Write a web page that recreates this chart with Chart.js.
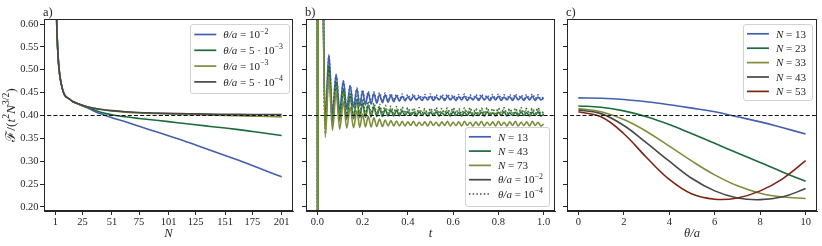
<!DOCTYPE html>
<html><head><meta charset="utf-8">
<script src="https://cdn.jsdelivr.net/npm/chart.js@4"></script>
<style>
html,body{margin:0;padding:0;background:#fff;}
#wrap{position:relative;width:822px;height:246px;overflow:hidden;background:#fff;}
canvas{position:absolute;top:0;}
</style></head><body>
<div id="wrap">
<canvas id="ca" width="298" height="246" style="left:0px"></canvas>
<canvas id="cb" width="260" height="246" style="left:298px"></canvas>
<canvas id="cc" width="264" height="246" style="left:558px"></canvas>
</div>
<script>
// ================= DATA =================
const refLevel = 0.40;
const yTicks = [0.20, 0.25, 0.30, 0.35, 0.40, 0.45, 0.50, 0.55, 0.60];

// ---- panel a : F/(t^2 N^{3/2}) vs N ----
const aTicks = [1, 25, 51, 75, 101, 125, 151, 175, 201];
const aN = [1, 2, 3, 4, 5, 6, 8, 10, 13, 16, 20, 25, 31, 41, 51, 63, 75, 88, 101, 113, 125, 138, 151, 163, 175, 188, 201];
const aTheta1e2 = [0.95, 0.64, 0.55, 0.51, 0.487, 0.472, 0.452, 0.442, 0.437, 0.431, 0.426, 0.421, 0.4145, 0.4035, 0.395, 0.386, 0.3765, 0.366, 0.3555, 0.346, 0.3355, 0.324, 0.3125, 0.302, 0.2905, 0.278, 0.266];
const aTheta5e3 = [0.95, 0.64, 0.55, 0.51, 0.487, 0.472, 0.452, 0.442, 0.437, 0.431, 0.4265, 0.4215, 0.4165, 0.407, 0.4015, 0.397, 0.3935, 0.390, 0.3865, 0.383, 0.3795, 0.376, 0.3725, 0.369, 0.365, 0.3605, 0.356];
const aTheta1e3 = [0.95, 0.64, 0.55, 0.51, 0.487, 0.472, 0.452, 0.442, 0.437, 0.431, 0.4265, 0.4223, 0.4177, 0.413, 0.4098, 0.4072, 0.4055, 0.4043, 0.4032, 0.4023, 0.4015, 0.4007, 0.3999, 0.3992, 0.3985, 0.3977, 0.397];
const aTheta5e4 = [0.95, 0.64, 0.55, 0.51, 0.487, 0.472, 0.452, 0.442, 0.437, 0.431, 0.4265, 0.4225, 0.418, 0.4135, 0.4105, 0.408, 0.4065, 0.4055, 0.4045, 0.404, 0.4035, 0.403, 0.4027, 0.4024, 0.4022, 0.402, 0.4018];

// ---- panel b : F/(t^2 N^{3/2}) vs t ----
const bTicks = [0.0, 0.2, 0.4, 0.6, 0.8, 1.0];
const bT = [0, 0.002, 0.004, 0.014, 0.024, 0.035, 0.051, 0.067, 0.083, 0.099, 0.115, 0.130, 0.145, 0.160,
  0.175, 0.1875, 0.2, 0.2125, 0.225, 0.2375, 0.25, 0.2625, 0.275, 0.2875, 0.3, 0.3125, 0.325, 0.3375,
  0.35, 0.3625, 0.375, 0.3875, 0.4, 0.4125, 0.425, 0.4375, 0.45, 0.4625, 0.475, 0.4875, 0.5, 0.5125,
  0.525, 0.5375, 0.55, 0.5625, 0.575, 0.5875, 0.6, 0.6125, 0.625, 0.6375, 0.65, 0.6625, 0.675, 0.6875,
  0.7, 0.7125, 0.725, 0.7375, 0.75, 0.7625, 0.775, 0.7875, 0.8, 0.8125, 0.825, 0.8375, 0.85, 0.8625,
  0.875, 0.8875, 0.9, 0.9125, 0.925, 0.9375, 0.95, 0.9625, 0.975, 0.9875, 1.0];
const bN13th2 = [0.90, -0.30, 0.90, 1.40, 0.78,
  0.385, 0.533, 0.405, 0.490, 0.410, 0.476, 0.414, 0.465, 0.418, 0.458,
  0.421, 0.453, 0.423, 0.450, 0.425, 0.448, 0.427, 0.446, 0.428, 0.445,
  0.429, 0.444, 0.430, 0.443, 0.431, 0.442, 0.432, 0.441, 0.433, 0.442,
  0.434, 0.440, 0.433, 0.441, 0.434, 0.442, 0.433, 0.440, 0.434, 0.441,
  0.433, 0.442, 0.434, 0.440, 0.433, 0.441, 0.434, 0.442, 0.433, 0.440,
  0.434, 0.441, 0.433, 0.442, 0.434, 0.440, 0.433, 0.441, 0.434, 0.442,
  0.433, 0.440, 0.434, 0.441, 0.433, 0.442, 0.434, 0.440, 0.433, 0.441,
  0.434, 0.442, 0.433, 0.440, 0.434, 0.438];
const bN13th4 = [0.90, -0.30, 0.90, 1.40, 0.78,
  0.388, 0.530, 0.408, 0.488, 0.413, 0.475, 0.417, 0.466, 0.421, 0.460,
  0.424, 0.456, 0.426, 0.453, 0.428, 0.451, 0.430, 0.450, 0.431, 0.449,
  0.432, 0.448, 0.433, 0.447, 0.434, 0.447, 0.435, 0.446, 0.436, 0.447,
  0.436, 0.445, 0.437, 0.446, 0.436, 0.447, 0.437, 0.445, 0.436, 0.446,
  0.437, 0.447, 0.436, 0.445, 0.437, 0.446, 0.436, 0.447, 0.437, 0.445,
  0.436, 0.446, 0.437, 0.447, 0.436, 0.445, 0.437, 0.446, 0.436, 0.447,
  0.437, 0.445, 0.436, 0.446, 0.437, 0.447, 0.436, 0.445, 0.437, 0.446,
  0.436, 0.447, 0.437, 0.445, 0.436, 0.441];
const bN43th2 = [0.90, -0.30, 0.90, 1.40, 0.76,
  0.370, 0.505, 0.386, 0.470, 0.390, 0.455, 0.392, 0.443, 0.393, 0.435,
  0.395, 0.428, 0.396, 0.423, 0.397, 0.419, 0.398, 0.416, 0.398, 0.414,
  0.399, 0.412, 0.399, 0.411, 0.399, 0.410, 0.400, 0.408, 0.400, 0.407,
  0.399, 0.408, 0.400, 0.406, 0.399, 0.407, 0.400, 0.408, 0.399, 0.406,
  0.400, 0.407, 0.399, 0.408, 0.400, 0.406, 0.399, 0.407, 0.400, 0.408,
  0.399, 0.406, 0.400, 0.407, 0.399, 0.408, 0.400, 0.406, 0.399, 0.407,
  0.400, 0.408, 0.399, 0.406, 0.400, 0.407, 0.399, 0.408, 0.400, 0.406,
  0.399, 0.407, 0.400, 0.408, 0.399, 0.403];
const bN43th4 = [0.90, -0.30, 0.90, 1.40, 0.76,
  0.375, 0.510, 0.392, 0.475, 0.396, 0.460, 0.398, 0.450, 0.400, 0.442,
  0.401, 0.436, 0.402, 0.431, 0.403, 0.427, 0.404, 0.424, 0.404, 0.422,
  0.405, 0.420, 0.405, 0.419, 0.405, 0.418, 0.405, 0.417, 0.405, 0.416,
  0.404, 0.417, 0.405, 0.415, 0.404, 0.416, 0.405, 0.417, 0.404, 0.415,
  0.405, 0.416, 0.404, 0.417, 0.405, 0.415, 0.404, 0.416, 0.405, 0.417,
  0.404, 0.415, 0.405, 0.416, 0.404, 0.417, 0.405, 0.415, 0.404, 0.416,
  0.405, 0.417, 0.404, 0.415, 0.405, 0.416, 0.404, 0.417, 0.405, 0.415,
  0.404, 0.416, 0.405, 0.417, 0.404, 0.409];
const bN73th2 = [0.90, -0.30, 0.90, 1.40, 0.74,
  0.352, 0.485, 0.368, 0.450, 0.370, 0.430, 0.372, 0.418, 0.373, 0.410,
  0.374, 0.403, 0.375, 0.398, 0.375, 0.395, 0.376, 0.392, 0.376, 0.390,
  0.377, 0.389, 0.377, 0.388, 0.377, 0.387, 0.377, 0.386, 0.378, 0.387,
  0.377, 0.385, 0.378, 0.386, 0.377, 0.387, 0.378, 0.385, 0.377, 0.386,
  0.378, 0.387, 0.377, 0.385, 0.378, 0.386, 0.377, 0.387, 0.378, 0.385,
  0.377, 0.386, 0.378, 0.387, 0.377, 0.385, 0.378, 0.386, 0.377, 0.387,
  0.378, 0.385, 0.377, 0.386, 0.378, 0.387, 0.377, 0.385, 0.378, 0.386,
  0.377, 0.387, 0.378, 0.385, 0.377, 0.381];
const bN73th4 = [0.90, -0.30, 0.90, 1.40, 0.74,
  0.360, 0.495, 0.378, 0.465, 0.385, 0.450, 0.390, 0.440, 0.393, 0.433,
  0.396, 0.428, 0.398, 0.424, 0.400, 0.421, 0.401, 0.419, 0.402, 0.417,
  0.402, 0.416, 0.403, 0.415, 0.403, 0.414, 0.403, 0.413, 0.403, 0.414,
  0.402, 0.413, 0.403, 0.412, 0.402, 0.413, 0.403, 0.414, 0.402, 0.412,
  0.403, 0.413, 0.402, 0.414, 0.403, 0.412, 0.402, 0.413, 0.403, 0.414,
  0.402, 0.412, 0.403, 0.413, 0.402, 0.414, 0.403, 0.412, 0.402, 0.413,
  0.403, 0.414, 0.402, 0.412, 0.403, 0.413, 0.402, 0.414, 0.403, 0.412,
  0.402, 0.413, 0.403, 0.414, 0.402, 0.407];

// ---- panel c : F/(t^2 N^{3/2}) vs theta/a ----
const cTicks = [0, 2, 4, 6, 8, 10];
const cTheta = [0, 1, 2, 3, 4, 5, 6, 7, 8, 9, 10];
const cN13 = [0.4384, 0.4378, 0.4350, 0.4300, 0.4235, 0.4160, 0.4080, 0.3970, 0.3860, 0.3730, 0.3595];
const cN23 = [0.4208, 0.4180, 0.4100, 0.3970, 0.3800, 0.3600, 0.3390, 0.3180, 0.2970, 0.2760, 0.2560];
const cN33 = [0.4150, 0.4080, 0.3910, 0.3650, 0.3330, 0.3000, 0.2700, 0.2460, 0.2300, 0.2215, 0.2185];
const cN43 = [0.4120, 0.4040, 0.3780, 0.3400, 0.3000, 0.2620, 0.2350, 0.2195, 0.2158, 0.2220, 0.2400];
const cN53 = [0.4080, 0.3970, 0.3600, 0.3080, 0.2600, 0.2280, 0.2167, 0.2195, 0.2350, 0.2620, 0.3010];

// ================= STYLE / DRAWING =================
const FAM = '"Liberation Serif","DejaVu Serif",serif';
const INK = '#262626';
const C_BLUE = '#4360b0', C_GREEN = '#1c6b3d', C_OLIVE = '#808c3c', C_GRAY = '#474747', C_RED = '#7d2512';
const DOT = [1.5, 2.2];
Chart.defaults.font.family = FAM;
Chart.defaults.color = INK;

function pts(xs, ys) { return xs.map((x, i) => ({x: x, y: ys[i]})); }

function fontFor(k, size) {
  return (k === 'i' || k === 'si' ? 'italic ' : '') + ((k === 's' || k === 'si') ? (size * 0.72).toFixed(1) : size) + 'px ' + FAM;
}
function drawRich(ctx, segs, x, y, size, align) {
  let w = 0; const ws = [];
  for (const [t, k] of segs) { ctx.font = fontFor(k, size); const m = ctx.measureText(t).width; ws.push(m); w += m; }
  let cx = align === 'center' ? x - w / 2 : (align === 'right' ? x - w : x);
  ctx.textBaseline = 'alphabetic'; ctx.textAlign = 'left';
  segs.forEach(([t, k], i) => {
    ctx.font = fontFor(k, size);
    ctx.fillText(t, cx, (k === 's' || k === 'si') ? y - size * 0.42 : y);
    cx += ws[i];
  });
  return w;
}
function measureRich(ctx, segs, size) {
  let w = 0;
  for (const [t, k] of segs) { ctx.font = fontFor(k, size); w += ctx.measureText(t).width; }
  return w;
}

function decoPlugin(cfg) {
  return {
    id: 'deco',
    afterDraw(chart) {
      const ctx = chart.ctx, a = chart.chartArea;
      ctx.save();
      // frame
      ctx.strokeStyle = INK; ctx.lineWidth = 1;
      ctx.strokeRect(Math.round(a.left) + 0.5, Math.round(a.top) + 0.5, Math.round(a.right - a.left) - 1, Math.round(a.bottom - a.top) - 1);
      ctx.fillStyle = INK;
      // panel label
      ctx.font = '12.5px ' + FAM; ctx.textBaseline = 'alphabetic'; ctx.textAlign = 'left';
      ctx.fillText(cfg.panel, a.left - 1, 16);
      // x title
      drawRich(ctx, cfg.xTitle, (a.left + a.right) / 2, 236.5, 12.5, 'center');
      // y title
      if (cfg.yTitle) {
        ctx.save(); ctx.translate(15, (a.top + a.bottom) / 2); ctx.rotate(-Math.PI / 2);
        drawRich(ctx, cfg.yTitle, 0, 0, 13.5, 'center');
        ctx.restore();
      }
      // legend
      const L = cfg.legend;
      let tw = 0;
      for (const r of L.rows) tw = Math.max(tw, measureRich(ctx, r.segs, L.size));
      const w = 33 + tw + 6, h = L.h;
      const x0 = a.right - L.dx - w;
      const y0 = L.anchor === 'bottom' ? a.bottom - L.dy - h : a.top + L.dy;
      ctx.fillStyle = 'rgba(255,255,255,0.85)'; ctx.strokeStyle = '#d2d2d2'; ctx.lineWidth = 1;
      ctx.beginPath(); ctx.roundRect(Math.round(x0) + 0.5, Math.round(y0) + 0.5, Math.round(w), Math.round(h), 2.5); ctx.fill(); ctx.stroke();
      L.rows.forEach((r, i) => {
        const cy = y0 + L.first + L.step * i;
        ctx.strokeStyle = r.color; ctx.lineWidth = 1.7; ctx.setLineDash(r.dash || []);
        ctx.beginPath(); ctx.moveTo(x0 + 4, cy); ctx.lineTo(x0 + 26, cy); ctx.stroke();
        ctx.setLineDash([]);
        ctx.fillStyle = INK;
        drawRich(ctx, r.segs, x0 + 33, cy + 3.7, L.size, 'left');
      });
      ctx.restore();
    }
  };
}

function makeChart(id, o) {
  const axisCommon = {
    grid: {drawOnChartArea: false, drawTicks: true, tickLength: 4, color: INK, lineWidth: 1},
    border: {display: true, color: INK, width: 1}
  };
  return new Chart(document.getElementById(id), {
    type: 'line',
    data: {datasets: o.datasets},
    options: {
      responsive: false, animation: false, devicePixelRatio: 1,
      layout: {padding: {top: 19, right: o.padRight, left: 0, bottom: 0}},
      plugins: {legend: {display: false}, tooltip: {enabled: false}},
      elements: {point: {radius: 0}, line: {borderWidth: 1.6, borderCapStyle: 'butt'}},
      scales: {
        x: Object.assign({
          type: 'linear', min: o.xMin, max: o.xMax,
          afterBuildTicks: ax => { ax.ticks = o.xTicks.map(v => ({value: v})); },
          ticks: {autoSkip: false, maxRotation: 0, minRotation: 0, padding: 1, font: {size: 10.5, family: FAM}, color: INK, callback: v => o.xFmt(v)},
          afterFit: ax => { ax.height = 35; }
        }, axisCommon),
        y: Object.assign({
          type: 'linear', min: 0.191, max: 0.611,
          afterBuildTicks: ax => { ax.ticks = yTicks.map(v => ({value: v})); },
          ticks: {autoSkip: false, padding: 1.5, font: {size: 10.5, family: FAM}, color: INK, callback: v => o.yLabels ? v.toFixed(2) : ''},
          afterFit: ax => { ax.width = o.yAxisW; }
        }, axisCommon)
      }
    },
    plugins: [decoPlugin(o.deco)]
  });
}

function line(xs, ys, color, i, dash, mode) {
  return {data: pts(xs, ys), borderColor: color, borderWidth: 1.6, borderDash: dash || [], fill: false,
          pointRadius: 0, cubicInterpolationMode: mode || 'monotone', tension: 0.4, order: -i};
}
function refLine(x0, x1) {
  return {data: [{x: x0, y: refLevel}, {x: x1, y: refLevel}], borderColor: '#111', borderWidth: 1.1,
          borderDash: [4, 2.2], pointRadius: 0, fill: false, order: -100};
}

const thetaSeg = (m, e) => [['θ/a', 'i'], [m ? ' = ' + m + ' · 10' : ' = 10', 'r'], ['−' + e, 's']];
const nSeg = n => [['N', 'i'], [' = ' + n, 'r']];

// ---- panel a
makeChart('ca', {
  xMin: -9, xMax: 211, xTicks: aTicks, xFmt: v => String(v), yLabels: true, yAxisW: 44, padRight: 5,
  datasets: [
    line(aN, aTheta1e2, C_BLUE, 0), line(aN, aTheta5e3, C_GREEN, 1),
    line(aN, aTheta1e3, C_OLIVE, 2), line(aN, aTheta5e4, C_GRAY, 3), refLine(-50, 300)
  ],
  deco: {
    panel: 'a)', xTitle: [['N', 'i']],
    yTitle: [['ℱ', 'r'], ['/(', 'r'], ['t', 'i'], ['2', 's'], ['N', 'i'], ['3/2', 's'], [')', 'r']],
    legend: {anchor: 'top', dx: 4, dy: 5, h: 69, first: 10.5, step: 15.8, size: 11,
      rows: [
        {color: C_BLUE, segs: thetaSeg(null, '2')},
        {color: C_GREEN, segs: thetaSeg('5', '3')},
        {color: C_OLIVE, segs: thetaSeg(null, '3')},
        {color: C_GRAY, segs: thetaSeg('5', '4')}
      ]}
  }
});

// ---- panel b
makeChart('cb', {
  xMin: -0.05, xMax: 1.05, xTicks: bTicks, xFmt: v => v.toFixed(1), yLabels: false, yAxisW: 8, padRight: 3,
  datasets: [
    line(bT, bN13th2, C_BLUE, 0), line(bT, bN13th4, C_BLUE, 1, DOT),
    line(bT, bN43th2, C_GREEN, 2), line(bT, bN43th4, C_GREEN, 3, DOT),
    line(bT, bN73th2, C_OLIVE, 4), line(bT, bN73th4, C_OLIVE, 5, DOT),
    refLine(-1, 2)
  ],
  deco: {
    panel: 'b)', xTitle: [['t', 'i']], yTitle: null,
    legend: {anchor: 'bottom', dx: 6, dy: 5, h: 79, first: 9.8, step: 14.3, size: 11,
      rows: [
        {color: C_BLUE, segs: nSeg(13)},
        {color: C_GREEN, segs: nSeg(43)},
        {color: C_OLIVE, segs: nSeg(73)},
        {color: C_GRAY, segs: thetaSeg(null, '2')},
        {color: C_GRAY, dash: DOT, segs: thetaSeg(null, '4')}
      ]}
  }
});

// ---- panel c
makeChart('cc', {
  xMin: -0.5, xMax: 10.5, xTicks: cTicks, xFmt: v => String(v), yLabels: false, yAxisW: 9, padRight: 5,
  datasets: [
    line(cTheta, cN13, C_BLUE, 0, null, 'default'), line(cTheta, cN23, C_GREEN, 1, null, 'default'),
    line(cTheta, cN33, C_OLIVE, 2, null, 'default'), line(cTheta, cN43, C_GRAY, 3, null, 'default'),
    line(cTheta, cN53, C_RED, 4, null, 'default'), refLine(-5, 20)
  ],
  deco: {
    panel: 'c)', xTitle: [['θ/a', 'i']], yTitle: null,
    legend: {anchor: 'top', dx: 5, dy: 5, h: 76, first: 9.8, step: 14.4, size: 11,
      rows: [
        {color: C_BLUE, segs: nSeg(13)},
        {color: C_GREEN, segs: nSeg(23)},
        {color: C_OLIVE, segs: nSeg(33)},
        {color: C_GRAY, segs: nSeg(43)},
        {color: C_RED, segs: nSeg(53)}
      ]}
  }
});
</script>
</body></html>
